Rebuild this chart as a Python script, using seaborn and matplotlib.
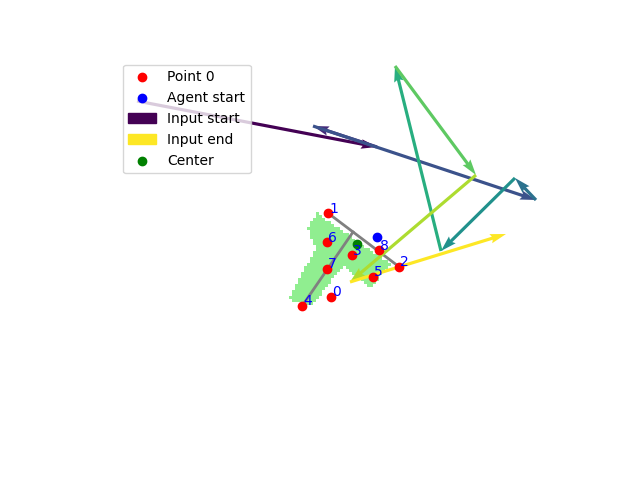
import numpy as np
import matplotlib

matplotlib.use("Agg")
import matplotlib.pyplot as plt
from matplotlib.patches import Patch
import seaborn as sns

# positions (pixel-like units, y grows downwards)
point_x = [330.7, 328.3, 399.0, 352.3, 302.3, 372.7, 326.7, 326.7, 378.7]
point_y = [296.7, 213.3, 266.7, 255.3, 305.7, 276.7, 242.3, 269.0, 250.0]
point_ids = ["0", "1", "2", "3", "4", "5", "6", "7", "8"]

agent_start = (377.3, 237.0)
center = (357.3, 244.3)

# input path, one arrow per step
path_x = [137, 377, 313, 536, 515, 441, 395, 476, 350, 506]
path_y = [101, 147, 126, 200, 178, 251, 66, 175, 282, 234]

# grey T axis lines
bar_line = [(328.3, 213.3), (399.0, 266.7)]
stem_line = [(302.3, 305.7), (353.0, 232.0)]

# occupied cells of the blob, (first col, last col) per row
cell = 3
grid_x0, grid_y0 = 286, 212
blob_rows = [
    [(10, 10)],
    [(10, 11)],
    [(9, 12)],
    [(8, 14)],
    [(8, 15)],
    [(7, 17)],
    [(8, 18)],
    [(8, 20)],
    [(8, 21)],
    [(9, 22)],
    [(9, 24)],
    [(10, 25)],
    [(10, 27)],
    [(9, 28)],
    [(9, 30)],
    [(8, 31)],
    [(8, 33)],
    [(7, 34)],
    [(6, 18), (20, 33)],
    [(6, 17), (21, 32)],
    [(5, 16), (22, 31)],
    [(5, 15), (23, 30)],
    [(4, 14), (25, 30)],
    [(4, 14), (26, 29)],
    [(3, 13), (27, 28)],
    [(3, 12)],
    [(2, 11)],
    [(2, 11)],
    [(1, 10)],
    [(2, 9)],
    [(5, 8)],
]
n_cols = 35

fig, ax = plt.subplots(figsize=(6.4, 4.8), dpi=100)

# blob image
img = np.zeros((len(blob_rows), n_cols, 4))
green = matplotlib.colors.to_rgba("lightgreen")
for r, runs in enumerate(blob_rows):
    for c0, c1 in runs:
        img[r, c0:c1 + 1] = green
ax.imshow(
    img,
    extent=(grid_x0, grid_x0 + n_cols * cell, grid_y0 + len(blob_rows) * cell, grid_y0),
    origin="upper",
    interpolation="nearest",
    zorder=1,
)

for seg in [bar_line, stem_line]:
    xs, ys = zip(*seg)
    ax.plot(xs, ys, color="gray", lw=2, zorder=2)

# arrows coloured along the input
px = np.array(path_x, dtype=float)
py = np.array(path_y, dtype=float)
n_steps = len(px) - 1
colors = plt.cm.viridis(np.linspace(0, 1, n_steps))
ax.quiver(
    px[:-1], py[:-1], np.diff(px), np.diff(py),
    color=colors, angles="xy", scale_units="xy", scale=1, zorder=3,
)

sns.scatterplot(x=point_x, y=point_y, color="red", s=36, edgecolor="red",
                linewidth=1, label="Point 0", ax=ax, zorder=4)
sns.scatterplot(x=[agent_start[0]], y=[agent_start[1]], color="blue", s=36,
                edgecolor="blue", linewidth=1, label="Agent start", ax=ax, zorder=4)
sns.scatterplot(x=[center[0]], y=[center[1]], color="green", s=36,
                edgecolor="green", linewidth=1, label="Center", ax=ax, zorder=4)

for x, y, t in zip(point_x, point_y, point_ids):
    ax.text(x + 1, y - 0.5, t, color="blue", fontsize=10, zorder=5)

handles, labels = ax.get_legend_handles_labels()
h = dict(zip(labels, handles))
legend_handles = [
    h["Point 0"],
    h["Agent start"],
    Patch(color=plt.cm.viridis(0.0), label="Input start"),
    Patch(color=plt.cm.viridis(1.0), label="Input end"),
    h["Center"],
]
ax.legend(handles=legend_handles, loc="upper left")

ax.set_aspect("equal")
ax.set_xlim(116, 540)
ax.set_ylim(427.2, 57.6)
ax.axis("off")

plt.savefig("out.png", dpi=100)
